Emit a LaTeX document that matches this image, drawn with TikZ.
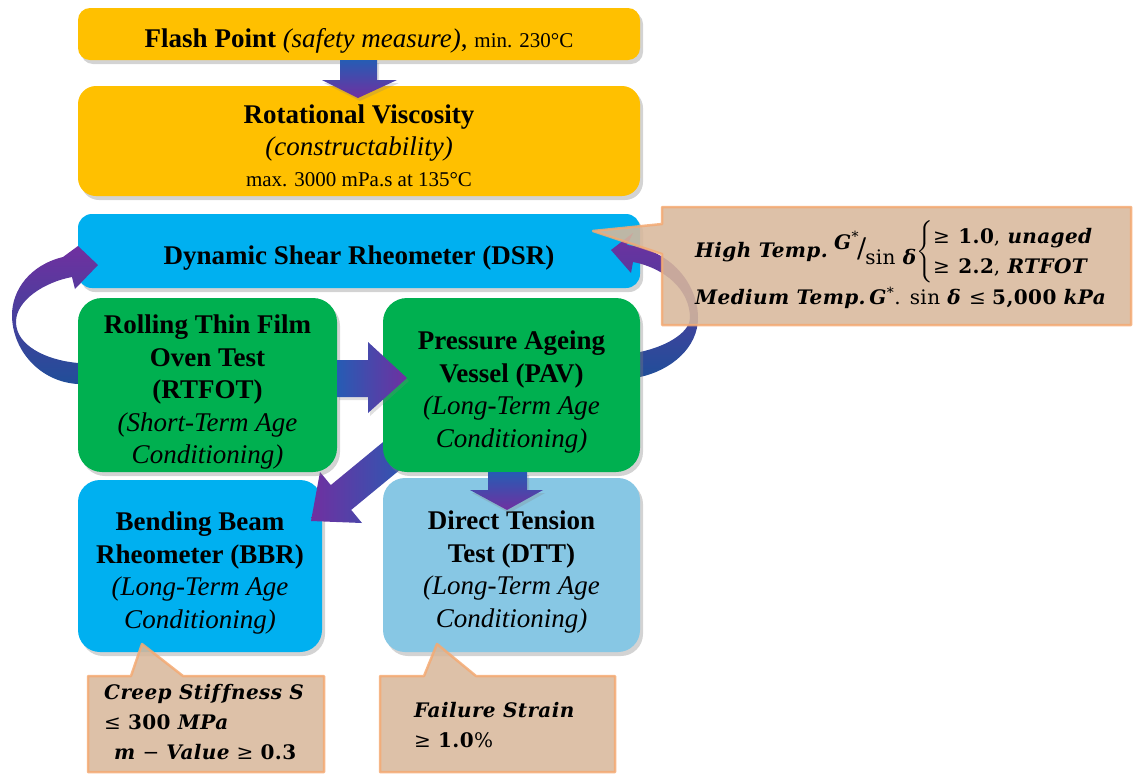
\documentclass[tikz,border=0pt]{standalone}
\usepackage{amsmath}
\usepackage{fontspec}
\setmainfont{Liberation Serif}
\newfontfamily\cfont[LetterSpace=2]{DejaVu Serif}
\usetikzlibrary{shadows,calc}
\definecolor{ygold}{RGB}{255,192,0}
\definecolor{sky}{RGB}{0,176,240}
\definecolor{grn}{RGB}{0,176,80}
\definecolor{lblue}{RGB}{135,199,228}
\definecolor{callfill}{RGB}{216,184,156}
\definecolor{callborder}{RGB}{244,170,115}
\definecolor{arblue}{RGB}{38,92,180}
\definecolor{arpurple}{RGB}{112,48,160}
\pgfdeclarelayer{lower}
\pgfdeclarelayer{mid}
\pgfdeclarelayer{front}
\pgfsetlayers{lower,mid,main,front}
\newcommand{\bi}[1]{\textbf{\textit{#1}}}
\newcommand{\tup}{\rule{0pt}{27pt}}
\begin{document}
\begin{tikzpicture}[x=1pt,y=-1pt,
  box/.style={align=center, inner sep=2pt, text=black, text depth=-4pt,
    font=\fontsize{27}{32.5}\selectfont,
    drop shadow={opacity=0.35, shadow xshift=3pt, shadow yshift=-4pt}},
  ybox/.style={box, fill=ygold, minimum width=562, rounded corners=12pt},
  bbox/.style={box, fill=sky, rounded corners=22pt},
  gbox/.style={box, fill=grn, rounded corners=24pt},
  lbox/.style={box, fill=lblue, rounded corners=22pt},
  vshade/.style={top color=arblue, bottom color=arpurple,
    drop shadow={opacity=0.25, shadow xshift=2pt, shadow yshift=-3pt}},
  hshade/.style={left color=arblue, right color=arpurple,
    drop shadow={opacity=0.25, shadow xshift=2pt, shadow yshift=-3pt}},
  cshade/.style={top color=arpurple, bottom color=arblue!85!black},
  callout/.style={fill=callfill, fill opacity=0.88, draw=callborder,
    draw opacity=0.85, line width=2.5pt, line join=round},
  ctext/.style={font=\cfont\fontsize{20}{30}\selectfont, align=left, inner sep=0pt, text=black}
]
\useasboundingbox (0,0) rectangle (1133,774);

\begin{pgfonlayer}{lower}
\node[ybox, minimum height=52] (flash) at (359,34)
  {\tup\textbf{Flash Point} \textit{(safety measure)}, {\fontsize{21}{25}\selectfont min. 230°C}};
\node[ybox, minimum height=110, rounded corners=18pt] (rot) at (359,141)
  {\tup\textbf{Rotational Viscosity}\\ \textit{(constructability)}\\[-2pt]
   {\fontsize{21}{25}\selectfont max. 3000 mPa.s at 135°C}};
\node[bbox, minimum width=562, minimum height=74, rounded corners=14pt] (dsr) at (359,251)
  {\tup\textbf{Dynamic Shear Rheometer (DSR)}};
\node[bbox, minimum width=244, minimum height=172] (bbr) at (200,566)
  {\tup\textbf{Bending Beam}\\ \textbf{Rheometer (BBR)}\\ \textit{(Long-Term Age}\\ \textit{Conditioning)}};
\node[lbox, minimum width=257, minimum height=174] (dtt) at (511.5,565)
  {\tup\textbf{Direct Tension}\\ \textbf{Test (DTT)}\\ \textit{(Long-Term Age}\\ \textit{Conditioning)}};
\end{pgfonlayer}

\node[gbox, minimum width=259, minimum height=174] (rtfot) at (207.5,385)
  {\tup\textbf{Rolling Thin Film}\\ \textbf{Oven Test}\\ \textbf{(RTFOT)}\\ \textit{(Short-Term Age}\\ \textit{Conditioning)}};
\node[gbox, minimum width=257, minimum height=174] (pav) at (511.5,385)
  {\tup\textbf{Pressure Ageing}\\ \textbf{Vessel (PAV)}\\ \textit{(Long-Term Age}\\ \textit{Conditioning)}};

\begin{pgfonlayer}{mid}
% curved arrow RTFOT -> DSR (left)
\path[cshade] (95,363) -- (78,363) .. controls (45,360) and (16,345) .. (16,322)
  .. controls (16,300) and (45,282) .. (72,277) -- (75,289) -- (98,265) -- (78,246) -- (63,257)
  .. controls (30,265) and (12,290) .. (12,315) .. controls (12,350) and (40,382) .. (78,384)
  -- (95,384) -- cycle;
% curved arrow PAV -> DSR (right)
\path[cshade] (625,352) -- (640,352) .. controls (672,345) and (690,330) .. (690,318)
  .. controls (690,290) and (665,268) .. (633,262) -- (631,273) -- (611,250) -- (633,233) -- (627,245)
  .. controls (672,250) and (698,285) .. (698,318) .. controls (698,347) and (672,370) .. (640,377)
  -- (625,377) -- cycle;
% diagonal arrow PAV -> BBR
\path[left color=arpurple, right color=arblue] (392.6,434.2) -- (330.8,485.1) -- (320,472) -- (311,521)
  -- (362,523) -- (351.2,509.9) -- (413,459) -- cycle;
\end{pgfonlayer}

\begin{pgfonlayer}{front}
% Flash -> Rotational viscosity
\path[vshade] (340,60) -- (377,60) -- (377,80) -- (397,80) -- (358,98) -- (322,80) -- (340,80) -- cycle;
% RTFOT -> PAV
\path[hshade] (337,360) -- (368,360) -- (368,342) -- (407,378) -- (368,413) -- (368,397) -- (337,397) -- cycle;
% PAV -> DTT
\path[vshade] (488,472) -- (527,472) -- (527,490) -- (543,490) -- (507,510) -- (470,490) -- (488,490) -- cycle;

% callouts
\path[callout] (662,207) -- (1131,207) -- (1131,325) -- (662,325) -- (662,254) -- (593,231) -- (662,224) -- cycle;
\path[callout] (88,676) -- (131,676) -- (142,644) -- (183,676) -- (324,676) -- (324,772) -- (88,772) -- cycle;
\path[callout] (380,676) -- (424,676) -- (437,644) -- (476,676) -- (615,676) -- (615,772) -- (380,772) -- cycle;

\node[ctext, anchor=west] (dsrc1) at (695,252)
  {\bi{High Temp.}\hspace{6pt}\raisebox{8pt}{\bi{G}\textsuperscript{*}}\kern-2pt{\fontsize{27}{27}\selectfont/}\kern-1pt\raisebox{-7pt}{sin \bi{δ}}%
   $\left\{\begin{tabular}{@{}l@{}}≥\hspace{8pt}\textbf{1.0}, \bi{unaged}\\ ≥\hspace{8pt}\textbf{2.2}, \bi{RTFOT}\end{tabular}\right.$};
\node[ctext, anchor=west] (dsrc2) at (695,298)
  {\bi{Medium Temp.}\,\bi{G}\textsuperscript{*}. sin \bi{δ}\hspace{8pt}≤\hspace{6pt}\textbf{5,000} \bi{kPa}};
\node[ctext, anchor=west] (bbrc) at (104,722)
  {\bi{Creep Stif\kern2pt fness S}\\ ≤ \textbf{300} \bi{MPa}\\ \hspace{10pt}\bi{m} − \bi{Value} ≥ \textbf{0.3}};
\node[ctext, anchor=west] (dttc) at (414,725)
  {\bi{Failure Strain}\\ ≥ \textbf{1.0}\%};
\end{pgfonlayer}
\end{tikzpicture}
\end{document}
